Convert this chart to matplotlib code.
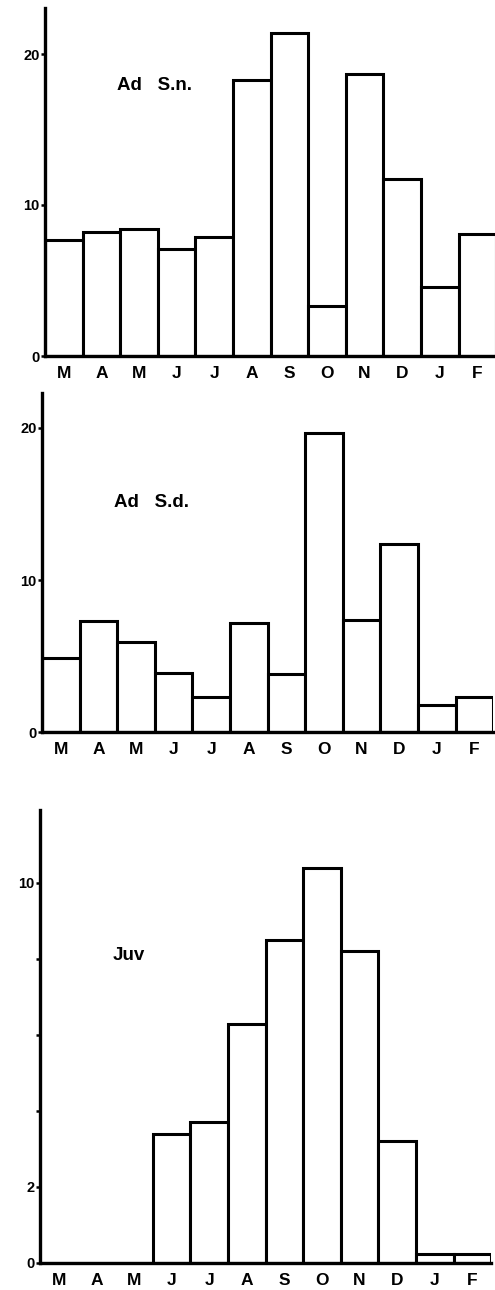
import matplotlib.pyplot as plt
import numpy as np

months = ['M', 'A', 'M', 'J', 'J', 'A', 'S', 'O', 'N', 'D', 'J', 'F']

# counts per month
ad_sn = [7.7, 8.2, 8.4, 7.1, 7.9, 18.3, 21.4, 3.3, 18.7, 11.7, 4.6, 8.1]
ad_sd = [4.9, 7.3, 5.9, 3.9, 2.3, 7.2, 3.8, 19.7, 7.4, 12.4, 1.8, 2.3]
juv = [0, 0, 0, 3.4, 3.7, 6.3, 8.5, 10.4, 8.2, 3.2, 0.25, 0.25]

W, H = 495, 1290
plt.rcParams['font.family'] = ['Liberation Sans', 'DejaVu Sans']

fig = plt.figure(figsize=(W / 100, H / 100), dpi=100)


def make_axes(x0, ytop, ybot, px_per_unit):
    # 12 bars, ~37.6 px each
    x1 = x0 + 12 * 37.6
    ax = fig.add_axes([x0 / W, 1 - ybot / H, (x1 - x0) / W, (ybot - ytop) / H])
    ax.set_xlim(0, 12)
    ax.set_ylim(0, (ybot - ytop) / px_per_unit)
    return ax


panels = [
    (make_axes(45, 8, 356, 15.1), ad_sn, 'Ad   S.n.', 17.9, [0, 10, 20], ['0', '10', '20']),
    (make_axes(42, 393, 732, 15.2), ad_sd, 'Ad   S.d.', 15.1, [0, 10, 20], ['0', '10', '20']),
    (make_axes(40, 810, 1263, 38.0), juv, 'Juv', 8.1, [0, 2, 4, 6, 8, 10],
     ['0', '2', '', '', '', '10']),
]

x = np.arange(len(months))
for ax, vals, label, label_y, yt, ytl in panels:
    ax.bar(x, vals, width=1.0, align='edge', color='white',
           edgecolor='black', linewidth=2.2)
    for s in ['top', 'right']:
        ax.spines[s].set_visible(False)
    for s in ['left', 'bottom']:
        ax.spines[s].set_linewidth(2.4)
        ax.spines[s].set_zorder(3)
    ax.set_xticks(x + 0.5)
    ax.set_xticklabels(months, fontsize=12.5, fontweight='bold')
    ax.tick_params(axis='x', length=0, pad=7)
    ax.set_yticks(yt)
    ax.set_yticklabels(ytl, fontsize=10.5, fontweight='bold')
    ax.tick_params(axis='y', length=3, width=1.8, pad=1)
    ax.text(1.92, label_y, label, fontsize=13.5, fontweight='bold',
            ha='left', va='center')

fig.savefig('out.png', dpi=100)
